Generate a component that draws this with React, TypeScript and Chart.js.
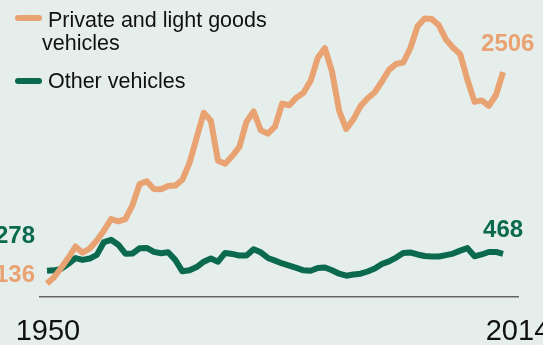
import React, { useEffect, useRef } from "react";
import { Chart, registerables } from "chart.js";

Chart.register(...registerables);

const years = [
  1950, 1951, 1952, 1953, 1954, 1955, 1956, 1957, 1958, 1959,
  1960, 1961, 1962, 1963, 1964, 1965, 1966, 1967, 1968, 1969,
  1970, 1971, 1972, 1973, 1974, 1975, 1976, 1977, 1978, 1979,
  1980, 1981, 1982, 1983, 1984, 1985, 1986, 1987, 1988, 1989,
  1990, 1991, 1992, 1993, 1994, 1995, 1996, 1997, 1998, 1999,
  2000, 2001, 2002, 2003, 2004, 2005, 2006, 2007, 2008, 2009,
  2010, 2011, 2012, 2013, 2014,
];

const privateVehicles = [
  136, 206, 312, 423, 550, 480, 528, 617, 730, 858,
  832, 858, 1014, 1250, 1281, 1195, 1192, 1228, 1233, 1299,
  1488, 1769, 2050, 1960, 1511, 1478, 1564, 1667, 1950, 2064,
  1854, 1816, 1894, 2153, 2134, 2219, 2273, 2408, 2666, 2775,
  2511, 2072, 1867, 1976, 2124, 2212, 2280, 2400, 2531, 2598,
  2613, 2776, 3019, 3107, 3100, 3030, 2870, 2778, 2705, 2420,
  2172, 2188, 2128, 2246, 2506,
];

const otherVehicles = [
  278, 283, 300, 356, 420, 400, 415, 456, 600, 625,
  570, 470, 472, 530, 534, 490, 475, 486, 400, 272,
  283, 320, 380, 416, 380, 478, 467, 448, 450, 520,
  485, 422, 392, 360, 335, 310, 283, 278, 310, 315,
  283, 245, 223, 237, 245, 270, 303, 354, 384, 426,
  478, 483, 461, 444, 438, 438, 454, 471, 504, 532,
  440, 461, 489, 489, 468,
];

const seriesNames = ["Private and light goods", "vehicles", "Other vehicles"];
const xTickLabels = ["1950", "2014"];

const BG = "#e5eeea";
const ORANGE = "#e9a272";
const GREEN = "#0b6a4e";

export default function App() {
  const ref = useRef<HTMLCanvasElement | null>(null);

  useEffect(() => {
    const canvas = ref.current;
    if (!canvas) return;

    const textPlugin = {
      id: "textPlugin",
      beforeDraw(chart: any) {
        const ctx = chart.ctx;
        ctx.save();
        ctx.fillStyle = BG;
        ctx.fillRect(0, 0, chart.width, chart.height);
        ctx.restore();
      },
      afterDraw(chart: any) {
        const ctx = chart.ctx;
        const xs = chart.scales.x;
        const area = chart.chartArea;
        ctx.save();
        // legend
        ctx.lineCap = "round";
        ctx.lineWidth = 6;
        ctx.strokeStyle = ORANGE;
        ctx.beginPath();
        ctx.moveTo(18, 18);
        ctx.lineTo(39, 18);
        ctx.stroke();
        ctx.strokeStyle = GREEN;
        ctx.beginPath();
        ctx.moveTo(18, 81);
        ctx.lineTo(39, 81);
        ctx.stroke();
        ctx.fillStyle = "#111";
        ctx.font = "21.5px 'Liberation Sans', Arial, sans-serif";
        ctx.textAlign = "left";
        ctx.textBaseline = "alphabetic";
        ctx.fillText(seriesNames[0], 48, 27);
        ctx.fillText(seriesNames[1], 42, 50);
        ctx.fillText(seriesNames[2], 48, 88);

        // x tick labels
        ctx.font = "29px 'Liberation Sans', Arial, sans-serif";
        ctx.textAlign = "center";
        ctx.fillText(xTickLabels[0], xs.getPixelForValue(years[0]) + 1, 340);
        ctx.fillText(xTickLabels[1], area.right, 340);

        // value labels
        const m0 = chart.getDatasetMeta(0).data;
        const m1 = chart.getDatasetMeta(1).data;
        ctx.font = "bold 24px 'Liberation Sans', Arial, sans-serif";
        const o0 = m0[0], oN = m0[m0.length - 1];
        const g0 = m1[0], gN = m1[m1.length - 1];
        ctx.fillStyle = ORANGE;
        ctx.textAlign = "right";
        ctx.fillText(String(privateVehicles[0]), o0.x - 12, o0.y - 1);
        ctx.textAlign = "left";
        ctx.fillText(String(privateVehicles[privateVehicles.length - 1]), oN.x - 22, oN.y - 21);
        ctx.fillStyle = GREEN;
        ctx.textAlign = "right";
        ctx.fillText(String(otherVehicles[0]), g0.x - 12, g0.y - 28);
        ctx.textAlign = "left";
        ctx.fillText(String(otherVehicles[otherVehicles.length - 1]), gN.x - 20, gN.y - 17);
        ctx.restore();
      },
    };

    const chart = new Chart(canvas, {
      type: "line",
      data: {
        datasets: [
          {
            label: seriesNames[0] + " " + seriesNames[1],
            data: years.map((y, i) => ({ x: y, y: privateVehicles[i] })),
            borderColor: ORANGE,
            borderWidth: 6,
            borderJoinStyle: "round",
            pointRadius: 0,
            tension: 0,
          },
          {
            label: seriesNames[2],
            data: years.map((y, i) => ({ x: y, y: otherVehicles[i] })),
            borderColor: GREEN,
            borderWidth: 6,
            borderJoinStyle: "round",
            pointRadius: 0,
            tension: 0,
          },
        ],
      },
      options: {
        animation: false,
        responsive: false,
        maintainAspectRatio: false,
        events: [],
        layout: { padding: { left: 40, right: 25, top: 0, bottom: 48 } },
        plugins: {
          legend: { display: false },
          tooltip: { enabled: false },
        },
        scales: {
          x: {
            type: "linear",
            min: 1949.02,
            max: 2016.1,
            grid: { display: false, drawTicks: false },
            ticks: { display: false },
            border: { display: true, color: "#666", width: 1.5 },
          },
          y: {
            display: false,
            min: -16,
            max: 3314,
          },
        },
      },
      plugins: [textPlugin],
    });
    return () => chart.destroy();
  }, []);

  return (
    <div style={{ position: "fixed", left: 0, top: 0, width: 543, height: 345, background: BG }}>
      <canvas ref={ref} width={543} height={345} style={{ display: "block" }} />
    </div>
  );
}
